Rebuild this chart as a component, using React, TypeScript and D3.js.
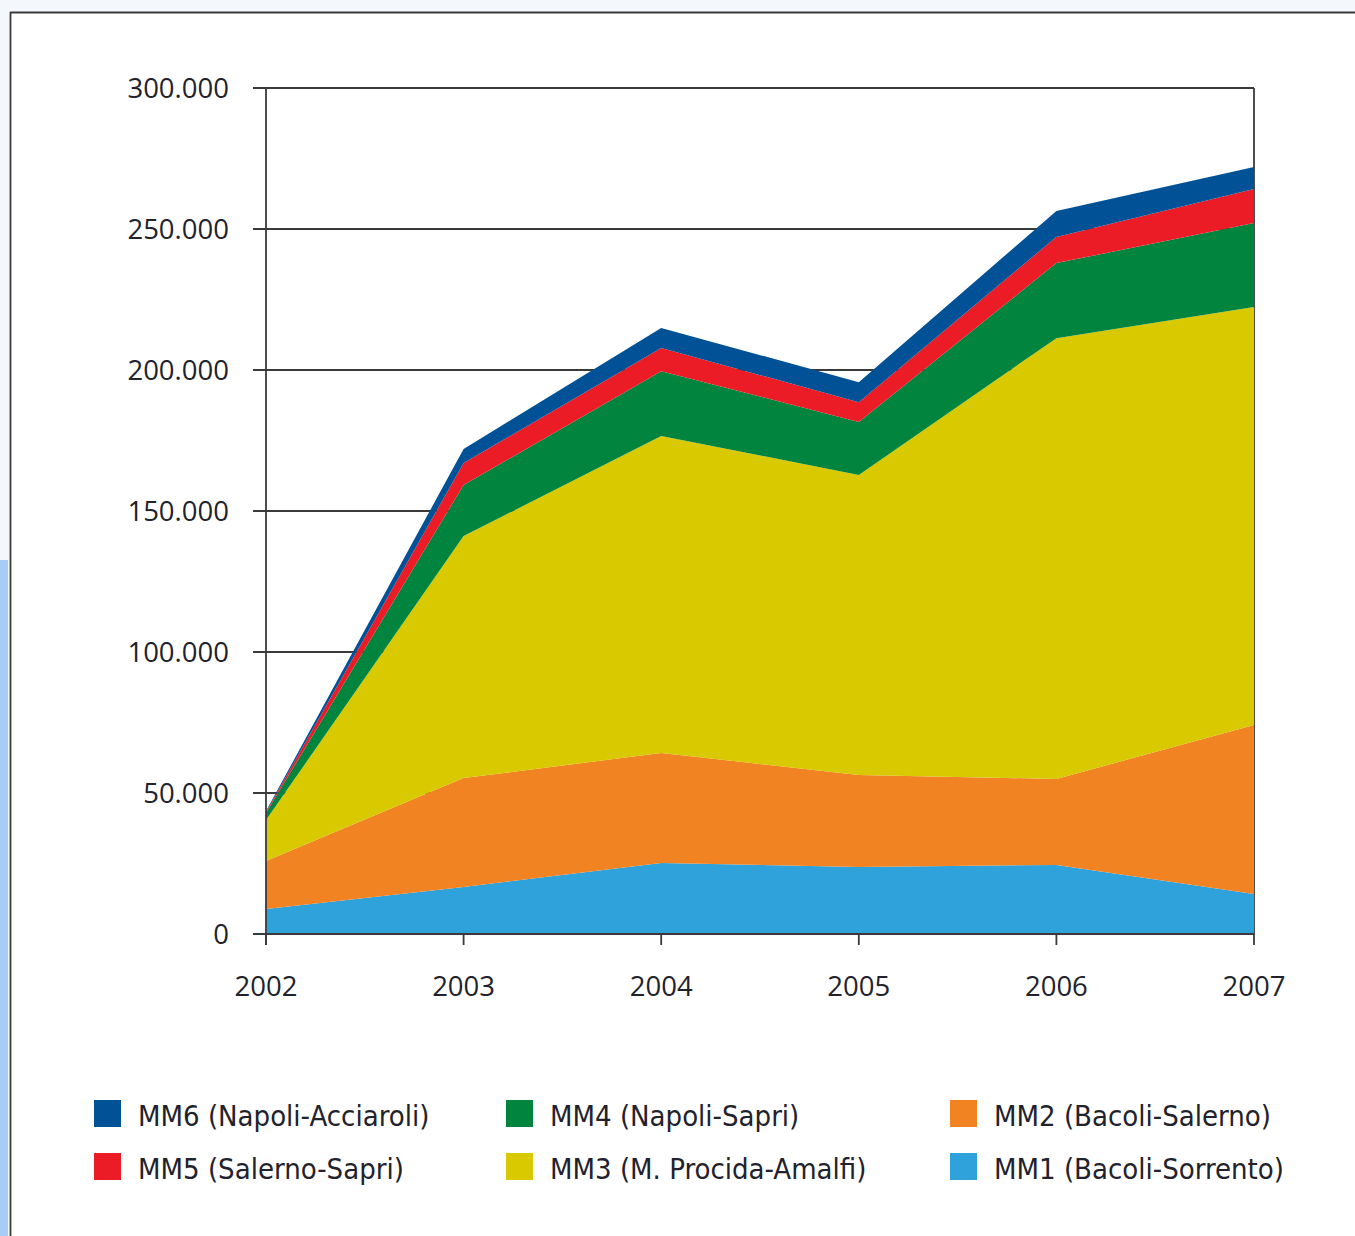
import React from "react";
import * as d3 from "d3";

const years = [2002, 2003, 2004, 2005, 2006, 2007];
const mm1 = [8900, 16700, 25200, 23800, 24500, 14200];
const mm2 = [17000, 38600, 39000, 32600, 30500, 59900];
const mm3 = [14500, 85800, 112400, 106400, 156300, 148200];
const mm4 = [2500, 18100, 23000, 18800, 26600, 29800];
const mm5 = [400, 7800, 8200, 7000, 9300, 12100];
const mm6 = [300, 5000, 7100, 7100, 9200, 7800];

const seriesKeys = ["MM1", "MM2", "MM3", "MM4", "MM5", "MM6"];
const seriesLabels = [
  "MM1 (Bacoli-Sorrento)",
  "MM2 (Bacoli-Salerno)",
  "MM3 (M. Procida-Amalfi)",
  "MM4 (Napoli-Sapri)",
  "MM5 (Salerno-Sapri)",
  "MM6 (Napoli-Acciaroli)",
];
const seriesColors = ["#2fa2dc", "#f28322", "#d8c900", "#00843e", "#ec1c27", "#005196"];
const yTicks = [0, 50000, 100000, 150000, 200000, 250000, 300000];

// legend order (column-major: col1 MM6, MM5; col2 MM4, MM3; col3 MM2, MM1)
const legendOrder = ["MM6", "MM5", "MM4", "MM3", "MM2", "MM1"];

export default function App() {
  const left = 266, right = 1254, top = 88, bottom = 934;
  const x = d3.scaleLinear().domain([2002, 2007]).range([left, right]);
  const y = d3.scaleLinear().domain([0, 300000]).range([bottom, top]);

  const rows = years.map((yr, i) => ({
    year: yr,
    MM1: mm1[i], MM2: mm2[i], MM3: mm3[i], MM4: mm4[i], MM5: mm5[i], MM6: mm6[i],
  }));
  const stack = d3.stack<any>().keys(seriesKeys);
  const layers = stack(rows);
  const area = d3
    .area<any>()
    .x((d) => x(d.data.year))
    .y0((d) => y(d[0]))
    .y1((d) => y(d[1]));

  const fmt = (v: number) => (v === 0 ? "0" : d3.format(",")(v).replace(/,/g, "."));
  const axisColor = "#3a3a3a";
  const textColor = "#22222c";
  const tickFont = "'Open Sans', sans-serif";
  const legFont = "'DejaVu Sans Condensed', 'DejaVu Sans', sans-serif";

  const legCols = [94, 506, 950];
  const legRows = [1100, 1153];

  return (
    <svg
      width={1355}
      height={1236}
      style={{ position: "absolute", left: 0, top: 0, display: "block" }}
    >
      <rect x={0} y={0} width={1355} height={1236} fill="#f4f7fc" />
      <rect x={0} y={560} width={8} height={676} fill="#a6cdf5" />
      <rect x={11} y={12} width={1344} height={1224} fill="#ffffff" />
      <line x1={10} y1={12.5} x2={1355} y2={12.5} stroke="#3a3a3a" strokeWidth={1.8} />
      <line x1={10.5} y1={12} x2={10.5} y2={1236} stroke="#3a3a3a" strokeWidth={1.8} />

      {/* gridlines */}
      {yTicks.map((t) => (
        <line key={t} x1={253} x2={right} y1={y(t)} y2={y(t)} stroke={axisColor} strokeWidth={1.8} />
      ))}
      <line x1={right} x2={right} y1={top} y2={bottom} stroke={axisColor} strokeWidth={1.8} />

      {/* areas */}
      {layers.map((layer, i) => (
        <path key={layer.key} d={area(layer) || ""} fill={seriesColors[i]} />
      ))}

      {/* axes */}
      <line x1={left} x2={left} y1={top} y2={945} stroke={axisColor} strokeWidth={1.8} />
      <line x1={253} x2={right} y1={bottom} y2={bottom} stroke={axisColor} strokeWidth={1.8} />
      {years.map((yr) => (
        <line key={yr} x1={x(yr)} x2={x(yr)} y1={bottom} y2={945} stroke={axisColor} strokeWidth={1.8} />
      ))}

      {yTicks.map((t) => (
        <text
          key={t}
          x={229}
          y={y(t) + 9.5}
          textAnchor="end"
          fontFamily={tickFont}
          fontSize={27.5}
          fill={textColor}
        >
          {fmt(t)}
        </text>
      ))}
      {years.map((yr) => (
        <text
          key={yr}
          x={x(yr)}
          y={996}
          textAnchor="middle"
          fontFamily={tickFont}
          fontSize={27.5}
          fill={textColor}
        >
          {yr}
        </text>
      ))}

      {/* legend */}
      {legendOrder.map((k, i) => {
        const idx = seriesKeys.indexOf(k);
        const cx = legCols[Math.floor(i / 2)];
        const cy = legRows[i % 2];
        return (
          <g key={k}>
            <rect x={cx} y={cy} width={27} height={27} fill={seriesColors[idx]} />
            <text
              x={cx + 44}
              y={cy + 26}
              fontFamily={legFont}
              style={{ fontStretch: "condensed" }}
              fontSize={29}
              fill={textColor}
            >
              {seriesLabels[idx]}
            </text>
          </g>
        );
      })}
    </svg>
  );
}
